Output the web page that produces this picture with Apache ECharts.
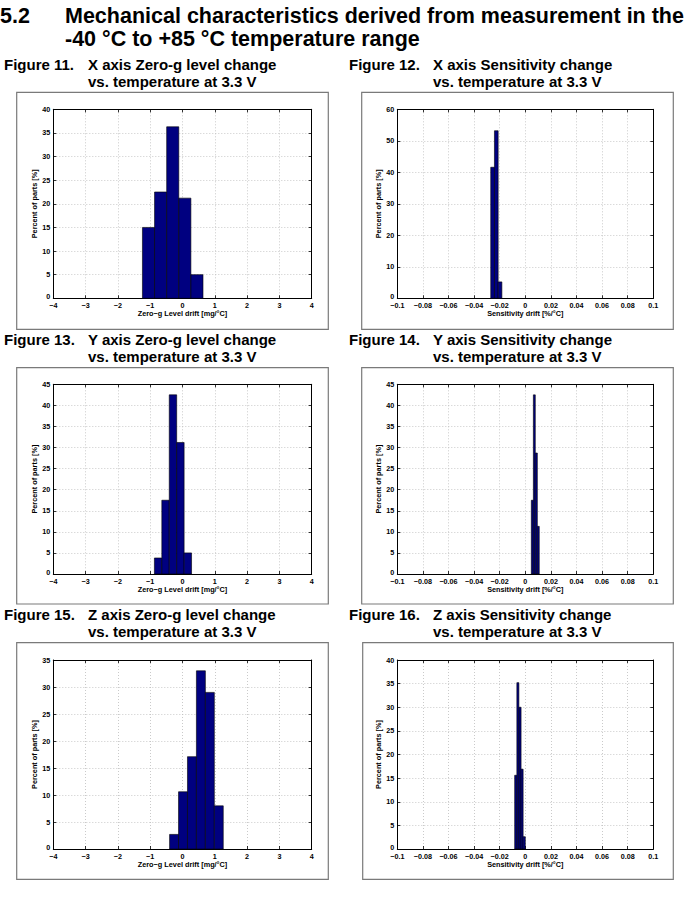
<!DOCTYPE html>
<html>
<head>
<meta charset="utf-8">
<script src="https://cdn.jsdelivr.net/npm/echarts@6/dist/echarts.min.js"></script>
<style>
html,body{margin:0;padding:0;background:#fff;}
#chart{width:684px;height:909px;}
</style>
</head>
<body>
<div id="chart"></div>
<script>
// ---- Data (histogram bin edges and percentages) ----
var fig11Edges = [-1.24, -0.865, -0.49, -0.115, 0.26, 0.635];
var fig11Pct   = [15.0, 22.5, 36.3, 21.2, 5.0];
var fig12Edges = [-0.0270, -0.0241, -0.0212, -0.0183];
var fig12Pct   = [41.6, 53.2, 5.2];
var fig13Edges = [-0.87, -0.64, -0.41, -0.18, 0.05, 0.28];
var fig13Pct   = [3.8, 17.5, 42.5, 31.2, 5.0];
var fig14Edges = [0.0047, 0.0063, 0.0078, 0.0094, 0.0109];
var fig14Pct   = [17.5, 42.5, 28.7, 11.3];
var fig15Edges = [-0.40, -0.123, 0.154, 0.431, 0.708, 0.985, 1.262];
var fig15Pct   = [2.7, 10.6, 17.1, 33.0, 29.0, 8.0];
var fig16Edges = [-0.0083, -0.0066, -0.0050, -0.0033, -0.0017, 0.0000];
var fig16Pct   = [15.6, 35.2, 30.0, 16.9, 2.6];

// ---- Tick ranges ----
var zeroGTicks = [-4, -3, -2, -1, 0, 1, 2, 3, 4];
var sensTicks  = [-0.1, -0.08, -0.06, -0.04, -0.02, 0, 0.02, 0.04, 0.06, 0.08, 0.1];
var yTicks11 = [0, 5, 10, 15, 20, 25, 30, 35, 40];
var yTicks12 = [0, 10, 20, 30, 40, 50, 60];
var yTicks13 = [0, 5, 10, 15, 20, 25, 30, 35, 40, 45];
var yTicks14 = [0, 5, 10, 15, 20, 25, 30, 35, 40, 45];
var yTicks15 = [0, 5, 10, 15, 20, 25, 30, 35];
var yTicks16 = [0, 5, 10, 15, 20, 25, 30, 35, 40];

// ---- Texts ----
var headerNum = '5.2';
var headerLine1 = 'Mechanical characteristics derived from measurement in the';
var headerLine2 = '-40 \u00B0C to +85 \u00B0C temperature range';
var figNums = ['Figure 11.', 'Figure 12.', 'Figure 13.', 'Figure 14.', 'Figure 15.', 'Figure 16.'];
var figTitles = ['X axis Zero-g level change', 'X axis Sensitivity change',
                 'Y axis Zero-g level change', 'Y axis Sensitivity change',
                 'Z axis Zero-g level change', 'Z axis Sensitivity change'];
var figSub = 'vs. temperature at 3.3 V';
var yName = 'Percent of parts [%]';
var xNameZeroG = 'Zero\u2212g Level drift [mg/\u00B0C]';
var xNameSens = 'Sensitivity drift [%/\u00B0C]';

var FONT = '"Liberation Sans", Arial, Helvetica, sans-serif';

function bins(edges, pct) {
  var out = [];
  for (var i = 0; i < pct.length; i++) out.push([edges[i], edges[i + 1], pct[i]]);
  return out;
}

var panels = [
  {grid: {left: 53.3, top: 109.3, width: 258.4, height: 189}, xt: zeroGTicks, yt: yTicks11, xName: xNameZeroG, data: bins(fig11Edges, fig11Pct)},
  {grid: {left: 397.3, top: 109.3, width: 256, height: 189}, xt: sensTicks, yt: yTicks12, xName: xNameSens, data: bins(fig12Edges, fig12Pct)},
  {grid: {left: 53.3, top: 384.3, width: 258.4, height: 189.7}, xt: zeroGTicks, yt: yTicks13, xName: xNameZeroG, data: bins(fig13Edges, fig13Pct)},
  {grid: {left: 397.3, top: 384.3, width: 256, height: 189.7}, xt: sensTicks, yt: yTicks14, xName: xNameSens, data: bins(fig14Edges, fig14Pct)},
  {grid: {left: 53.3, top: 660, width: 258.4, height: 189}, xt: zeroGTicks, yt: yTicks15, xName: xNameZeroG, data: bins(fig15Edges, fig15Pct)},
  {grid: {left: 397.3, top: 660, width: 256, height: 189}, xt: sensTicks, yt: yTicks16, xName: xNameSens, data: bins(fig16Edges, fig16Pct)}
];

function fmt(v) {
  var s = String(parseFloat(Number(v).toFixed(6)));
  return s.replace('-', '\u2212');
}
function fmtY(v) {
  var s = fmt(v);
  return Number(v) === 0 ? '{lo|' + s + '}' : s;
}

var grids = [], xAxes = [], yAxes = [], series = [];
panels.forEach(function (p, i) {
  var g = Object.assign({outerBoundsMode: 'none', containLabel: false}, p.grid);
  grids.push(g);
  var xmin = p.xt[0], xmax = p.xt[p.xt.length - 1], xint = p.xt[1] - p.xt[0];
  var ymin = p.yt[0], ymax = p.yt[p.yt.length - 1], yint = p.yt[1] - p.yt[0];
  var lineStyle = {color: '#000', width: 1};
  var tick = {show: true, inside: true, length: 3, lineStyle: {color: '#000', width: 0.8}};
  var labelStyle = {show: true, margin: 4, fontSize: 7.2, lineHeight: 7, fontWeight: 'bold', color: '#000', fontFamily: FONT,
                    formatter: fmt, showMinLabel: true, showMaxLabel: true, hideOverlap: false};
  var split = {show: true, lineStyle: {color: '#bdbdbd', width: 0.8, type: [1, 2]}};
  // bottom x
  xAxes.push({gridIndex: i, type: 'value', min: xmin, max: xmax, interval: xint, position: 'bottom',
    name: p.xName, nameLocation: 'middle', nameGap: 11,
    nameTextStyle: {fontSize: 7.3, fontWeight: 'bold', color: '#000', fontFamily: FONT},
    axisLine: {show: true, onZero: false, lineStyle: lineStyle}, axisTick: tick,
    axisLabel: labelStyle, splitLine: split});
  // top x
  xAxes.push({gridIndex: i, type: 'value', min: xmin, max: xmax, interval: xint, position: 'top',
    axisLine: {show: true, onZero: false, lineStyle: lineStyle}, axisTick: tick,
    axisLabel: {show: false}, splitLine: {show: false}});
  // left y
  yAxes.push({gridIndex: i, type: 'value', min: ymin, max: ymax, interval: yint, position: 'left',
    name: yName, nameLocation: 'middle', nameGap: 12, nameRotate: 90,
    nameTextStyle: {fontSize: 7.3, fontWeight: 'bold', color: '#000', fontFamily: FONT},
    axisLine: {show: true, onZero: false, lineStyle: lineStyle}, axisTick: tick,
    axisLabel: Object.assign({}, labelStyle, {margin: 3, formatter: fmtY,
      rich: {lo: {fontSize: 7.2, fontWeight: 'bold', color: '#000', fontFamily: FONT, lineHeight: 7, padding: [0, 0, 4, 0]}}}),
    splitLine: split});
  // right y
  yAxes.push({gridIndex: i, type: 'value', min: ymin, max: ymax, interval: yint, position: 'right',
    axisLine: {show: true, onZero: false, lineStyle: lineStyle}, axisTick: tick,
    axisLabel: {show: false}, splitLine: {show: false}});

  series.push({
    type: 'custom', xAxisIndex: 2 * i, yAxisIndex: 2 * i,
    encode: {x: [0, 1], y: 2},
    data: p.data,
    silent: true,
    renderItem: function (params, api) {
      var a = api.coord([api.value(0), 0]);
      var b = api.coord([api.value(1), api.value(2)]);
      return {type: 'rect', shape: {x: a[0], y: b[1], width: b[0] - a[0], height: a[1] - b[1]},
              style: {fill: '#000080', stroke: '#000000', lineWidth: 0.6}};
    }
  });
});

// frames and texts
var frames = [
  [16.7, 92.3, 328.3, 329.3], [361.7, 92.3, 673.3, 329.3],
  [16.7, 367.7, 328.3, 604], [361.7, 367.7, 673.3, 604],
  [16.7, 642.7, 328.3, 879.3], [362.7, 642.7, 673.3, 879.3]
];
var graphics = [];
frames.forEach(function (f) {
  graphics.push({type: 'rect', silent: true, z: 0,
    shape: {x: f[0], y: f[1], width: f[2] - f[0], height: f[3] - f[1]},
    style: {fill: 'none', stroke: '#7a7a7a', lineWidth: 1.2}});
});
function txt(s, x, y, size) {
  graphics.push({type: 'text', silent: true, z: 10,
    style: {text: s, x: x, y: y, fill: '#000', font: 'bold ' + size + 'px ' + FONT, align: 'left', verticalAlign: 'middle'}});
}
txt(headerNum, 0, 15.5, 21.5);
txt(headerLine1, 65, 15.5, 21.5);
txt(headerLine2, 65, 38.5, 21.5);
var capRows = [64.6, 339.6, 614.6];
for (var k = 0; k < 6; k++) {
  var row = Math.floor(k / 2), col = k % 2;
  var xn = col === 0 ? 4 : 349, xt = col === 0 ? 88 : 433;
  txt(figNums[k], xn, capRows[row], 15);
  txt(figTitles[k], xt, capRows[row], 15);
  txt(figSub, xt, capRows[row] + 17.3, 15);
}

var chart = echarts.init(document.getElementById('chart'), null, {renderer: 'svg', width: 684, height: 909});
chart.setOption({
  backgroundColor: '#ffffff',
  animation: false,
  grid: grids,
  xAxis: xAxes,
  yAxis: yAxes,
  series: series,
  graphic: graphics
});
</script>
</body>
</html>
